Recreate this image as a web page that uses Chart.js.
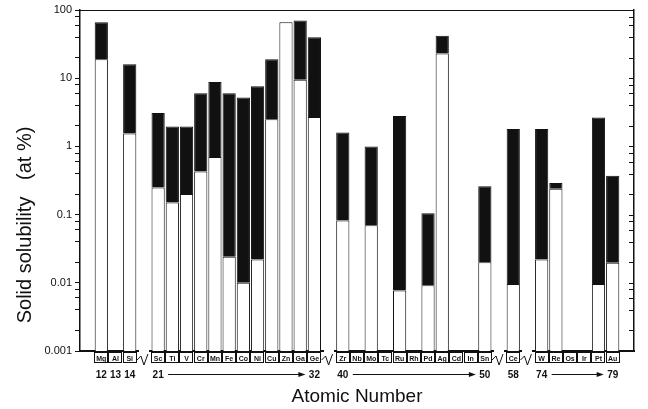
<!DOCTYPE html>
<html>
<head>
<meta charset="utf-8">
<script src="https://cdn.jsdelivr.net/npm/chart.js@4"></script>
<style>
  html, body { margin: 0; padding: 0; background: #fff; }
  #wrap { width: 648px; height: 409px; }
</style>
</head>
<body>
<div id="wrap"><canvas id="chart" width="648" height="409"></canvas></div>
<script>
// element symbols, '' = break / padding slot
const elements = ['', 'Mg', 'Al', 'Si', '', 'Sc', 'Ti', 'V', 'Cr', 'Mn', 'Fe', 'Co', 'Ni', 'Cu', 'Zn', 'Ga', 'Ge', '',
  'Zr', 'Nb', 'Mo', 'Tc', 'Ru', 'Rh', 'Pd', 'Ag', 'Cd', 'In', 'Sn', '', 'Ce', '', 'W', 'Re', 'Os', 'Ir', 'Pt', 'Au', ''];
const atomicNumbers = ['', '12', '13', '14', '', '21', '', '', '', '', '', '', '', '', '', '', '32', '',
  '40', '', '', '', '', '', '', '', '', '', '50', '', '58', '', '74', '', '', '', '', '79', ''];
// white part: 0.001 up to this value (at %)
const whiteLevel = [null, 19, null, 1.55, null, 0.25, 0.15, 0.2, 0.43, 0.7, 0.024, 0.010, 0.022, 2.5, 66, 9.5, 2.7, null,
  0.082, null, 0.07, null, 0.0077, null, 0.0092, 23, null, null, 0.02, null, 0.0096, null, 0.022, 0.24, null, null, 0.0096, 0.0196, null];
// black part: from white level up to this value (at %)
const blackTop = [null, 66, null, 16, null, 3.1, 1.95, 1.95, 6, 8.8, 6, 5.2, 7.6, 19, null, 70, 40, null,
  1.6, null, 1.0, null, 2.8, null, 0.105, 42, null, null, 0.26, null, 1.8, null, 1.8, 0.29, null, null, 2.65, 0.37, null];
const yDecades = [0.001, 0.01, 0.1, 1, 10, 100];
const yTickLabels = ['0.001', '0.01', '0.1', '1', '10', '100'];
const minorSteps = [2, 4, 6, 8];
const arrowSpans = [['Sc', 'Ge'], ['Zr', 'Sn'], ['W', 'Au']];

const INK = '#111';
const FONT = "'Liberation Sans', Arial, sans-serif";

function logTicks(scale) {
  const ticks = [];
  yDecades.forEach(d => {
    ticks.push({ value: d });
    if (d < 100) minorSteps.forEach(m => ticks.push({ value: d * m }));
  });
  scale.ticks = ticks;
}

function decadeLabel(v) {
  const l = Math.log10(v);
  const k = Math.round(l);
  if (Math.abs(l - k) < 1e-6) return yTickLabels[k + 3];
  return '';
}

const decorations = {
  id: 'decorations',
  afterDraw(chart) {
    const { ctx, chartArea } = chart;
    const xs = chart.scales.x, ys2 = chart.scales.y2, xs2 = chart.scales.x2;
    const slot = xs.getPixelForValue(1) - xs.getPixelForValue(0);
    ctx.save();
    ctx.strokeStyle = INK;
    ctx.fillStyle = INK;
    ctx.lineWidth = 1;

    // top frame line
    ctx.beginPath();
    ctx.moveTo(chartArea.left, chartArea.top + 0.5);
    ctx.lineTo(chartArea.right, chartArea.top + 0.5);
    ctx.stroke();

    // inward ticks on right axis
    ctx.beginPath();
    ys2.ticks.forEach(t => {
      const py = Math.round(ys2.getPixelForValue(t.value)) + 0.5;
      ctx.moveTo(chartArea.right, py);
      ctx.lineTo(chartArea.right - 5, py);
    });
    ctx.stroke();

    // boxes around element symbols
    elements.forEach((el, i) => {
      if (!el) return;
      const px = xs.getPixelForValue(i);
      ctx.strokeRect(Math.round(px - slot / 2) + 0.5, chartArea.bottom + 1.5, Math.round(slot) - 1, 10);
    });

    // axis break marks
    elements.forEach((el, i) => {
      if (el || i === 0 || i === elements.length - 1) return;
      const px = xs.getPixelForValue(i);
      const by = chartArea.bottom;
      ctx.clearRect(px - 5, by - 1, 10, 3);
      ctx.beginPath();
      ctx.moveTo(px - 7, by + 9);
      ctx.lineTo(px - 3, by + 5);
      ctx.lineTo(px, by + 14);
      ctx.lineTo(px + 4, by + 3);
      ctx.stroke();
    });

    // arrows in the atomic number row
    const ay = xs2.top + 9.5;
    arrowSpans.forEach(([a, b]) => {
      const x1 = xs2.getPixelForValue(elements.indexOf(a)) + 10;
      const x2 = xs2.getPixelForValue(elements.indexOf(b)) - 9;
      ctx.beginPath();
      ctx.moveTo(x1, ay);
      ctx.lineTo(x2 - 6, ay);
      ctx.stroke();
      ctx.beginPath();
      ctx.moveTo(x2, ay);
      ctx.lineTo(x2 - 7, ay - 2.5);
      ctx.lineTo(x2 - 7, ay + 2.5);
      ctx.closePath();
      ctx.fill();
    });
    ctx.restore();
  }
};

new Chart(document.getElementById('chart'), {
  type: 'bar',
  data: {
    labels: elements,
    datasets: [{
      label: 'white',
      data: whiteLevel.map(v => v == null ? null : [0.001, v]),
      backgroundColor: '#fff',
      borderColor: INK,
      borderWidth: 1,
      grouped: false,
      categoryPercentage: 1,
      barPercentage: 0.93
    }, {
      label: 'black',
      data: blackTop.map((v, i) => v == null ? null : [whiteLevel[i], v]),
      backgroundColor: INK,
      borderColor: INK,
      borderWidth: 1,
      grouped: false,
      categoryPercentage: 1,
      barPercentage: 0.93
    }]
  },
  options: {
    responsive: false,
    animation: false,
    layout: { padding: { top: 10, left: 0, right: 0, bottom: 0 } },
    plugins: { legend: { display: false }, tooltip: { enabled: false } },
    scales: {
      x: {
        type: 'category',
        offset: true,
        weight: 0,
        grid: { display: false, drawTicks: false },
        border: { color: INK, width: 2 },
        ticks: {
          autoSkip: false, maxRotation: 0, padding: 4,
          color: INK, font: { family: FONT, size: 7, weight: 'bold' }
        },
        afterFit: s => { s.height = 14; }
      },
      x2: {
        type: 'category',
        labels: atomicNumbers,
        position: 'bottom',
        offset: true,
        weight: 1,
        grid: { display: false, drawTicks: false },
        border: { display: false },
        ticks: {
          autoSkip: false, maxRotation: 0, padding: 4,
          color: INK, font: { family: FONT, size: 10, weight: 'bold' }
        },
        title: {
          display: true, text: 'Atomic Number', color: INK,
          font: { family: FONT, size: 19 }, padding: { top: 0, bottom: 1 }
        },
        afterFit: s => { s.height = 44; }
      },
      y: {
        type: 'logarithmic',
        min: 0.001, max: 100,
        afterBuildTicks: logTicks,
        grid: { drawOnChartArea: false, drawTicks: true, tickLength: 5, color: INK },
        border: { color: INK, width: 1.5 },
        ticks: {
          autoSkip: false, padding: 3, color: INK,
          font: { family: FONT, size: 11 },
          callback: v => decadeLabel(v)
        },
        title: {
          display: true, text: 'Solid solubility   (at %)' + ' '.repeat(16), color: INK,
          font: { family: FONT, size: 20 }, padding: { top: 13, bottom: 0 }
        },
        afterFit: s => { s.width = 80; }
      },
      y2: {
        type: 'logarithmic',
        position: 'right',
        min: 0.001, max: 100,
        afterBuildTicks: logTicks,
        grid: { display: false },
        border: { color: INK, width: 1.5 },
        ticks: { display: false },
        afterFit: s => { s.width = 14; }
      }
    }
  },
  plugins: [decorations]
});
</script>
</body>
</html>
